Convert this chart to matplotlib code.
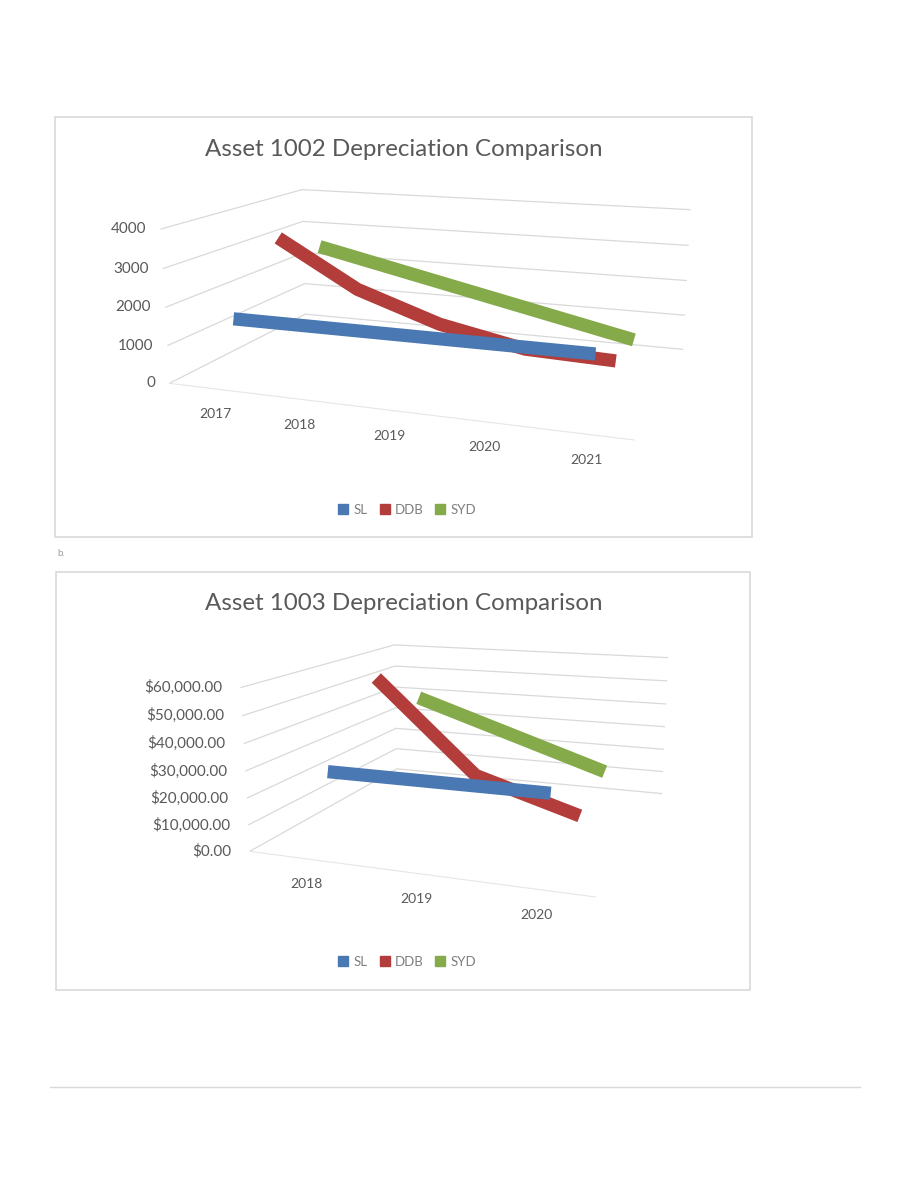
import numpy as np
import matplotlib
matplotlib.use("Agg")
import matplotlib.pyplot as plt
from matplotlib.lines import Line2D
from matplotlib.patches import Rectangle
from mpl_toolkits.mplot3d import proj3d

plt.rcParams["font.family"] = ["Lato", "DejaVu Sans"]

W, H = 911, 1180
TXT = "#595959"
GRID = "#d9d9d9"

series_names = ["SL", "DDB", "SYD"]
series_colors = ["#4a78b2", "#b23d3a", "#84aa4a"]

# asset 1002
years_1002 = ["2017", "2018", "2019", "2020", "2021"]
sl_1002 = [1500, 1500, 1500, 1500, 1500]
ddb_1002 = [3200, 1920, 1152, 691, 614]
syd_1002 = [2500, 2000, 1500, 1000, 500]
ticks_1002 = [0, 1000, 2000, 3000, 4000]

# asset 1003
years_1003 = ["2018", "2019", "2020"]
sl_1003 = [26500, 26500, 26500]
ddb_1003 = [55000, 18333.33, 6111.11]
syd_1003 = [39750, 26500, 13250]
ticks_1003 = [0, 10000, 20000, 30000, 40000, 50000, 60000]


def fx(px):
    return px / W


def fy(py):
    return 1 - py / H


fig = plt.figure(figsize=(W / 100, H / 100), dpi=100)
fig.patch.set_facecolor("white")


def to_px(ax, p):
    u, v, _ = proj3d.proj_transform(p[0], p[1], p[2], ax.M)
    return ax.transData.transform((u, v))


def chart(frame, title, years, series, ticks, fmt, aspect, corners, legend_y,
          zlab_gap):
    x0, y0, x1, y1 = frame
    fig.add_artist(Rectangle((fx(x0), fy(y1)), fx(x1) - fx(x0), fy(y0) - fy(y1),
                             transform=fig.transFigure, fill=False, ec=GRID, lw=1.2))
    fig.text(fx(404), fy(y0 + 32), title, ha="center", va="center",
             fontsize=17.4, color=TXT)

    n = len(years)
    ax = fig.add_axes([0.2, 0.3, 0.5, 0.5 * W / H], projection="3d",
                      proj_type="persp", focal_length=0.38)
    ax.view_init(elev=13.1, azim=-70)
    ax.set_box_aspect(aspect)
    ax.computed_zorder = False
    ax.patch.set_alpha(0)

    xs = np.arange(n)
    # back series first so the front one sits on top
    for d in range(len(series) - 1, -1, -1):
        ax.plot(xs, [d] * n, series[d], color=series_colors[d], lw=9.5,
                solid_capstyle="butt")

    ax.set_xlim(-0.5, n - 0.5)
    ax.set_ylim(-0.5, len(series) - 0.5)
    ax.set_zlim(0, ticks[-1])
    ax.set_xticks(xs)
    ax.set_xticklabels([])
    ax.set_yticks([])
    ax.set_zticks(ticks)
    ax.set_zticklabels([])

    for axis in (ax.xaxis, ax.yaxis, ax.zaxis):
        axis.set_pane_color((1, 1, 1, 0))
        axis.pane.set_edgecolor((1, 1, 1, 0))
        axis._axinfo["tick"]["inward_factor"] = 0
        axis._axinfo["tick"]["outward_factor"] = 0
        axis._axinfo["grid"]["color"] = (1, 1, 1, 0)
        axis.line.set_color((1, 1, 1, 0))
    ax.zaxis._axinfo["grid"]["color"] = GRID
    ax.zaxis._axinfo["grid"]["linewidth"] = 0.9
    ax.xaxis.line.set_color("#e6e6e6")

    # fit the projected box onto the frame
    fig.canvas.draw()
    xl, yl, zl = ax.get_xlim(), ax.get_ylim(), ax.get_zlim()
    p1 = to_px(ax, (xl[0], yl[0], zl[0]))
    p2 = to_px(ax, (xl[1], yl[1], zl[1]))
    t1 = np.array([corners[0][0], H - corners[0][1]])
    t2 = np.array([corners[1][0], H - corners[1][1]])
    bb = ax.get_position()
    size = bb.width * W
    c = np.array([(bb.x0 + bb.width / 2) * W, (bb.y0 + bb.height / 2) * H])
    r1, r2 = (p1 - c) / size, (p2 - c) / size
    new_size = np.linalg.norm(t2 - t1) / np.linalg.norm(r2 - r1)
    nc = (t1 + t2) / 2 - new_size * (r1 + r2) / 2
    ax.set_position([(nc[0] - new_size / 2) / W, (nc[1] - new_size / 2) / H,
                     new_size / W, new_size / H])
    fig.canvas.draw()

    # value labels at the front edge of the side wall
    for t in ticks:
        px, py = to_px(ax, (xl[0], yl[0], t))
        fig.text((px - zlab_gap) / W, py / H, fmt(t), ha="right", va="center",
                 fontsize=11, color=TXT)
    # category labels below the front edge of the floor
    for i, yr in enumerate(years):
        px, py = to_px(ax, (i, yl[0], 0))
        fig.text((px + 5) / W, (py - 26) / H, yr, ha="center", va="center",
                 fontsize=10, color=TXT)

    handles = [Line2D([], [], ls="none", marker="s", markersize=7, color=c_)
               for c_ in series_colors]
    fig.legend(handles, series_names, loc="center", ncol=3, frameon=False,
               bbox_to_anchor=(fx(407), fy(legend_y)), fontsize=9.5,
               labelcolor="#7f7f7f", handlelength=0.8, handletextpad=0.35,
               columnspacing=0.9)
    return ax


chart((55, 117, 752, 537), "Asset 1002 Depreciation Comparison", years_1002,
      [sl_1002, ddb_1002, syd_1002], ticks_1002, lambda v: f"{v:d}",
      (1.55, 1, 0.52), [(170, 385), (690, 208)], 510, 14)

chart((56, 572, 750, 990), "Asset 1003 Depreciation Comparison", years_1003,
      [sl_1003, ddb_1003, syd_1003], ticks_1003, lambda v: f"${v:,.2f}",
      (1.0, 1, 0.47), [(250, 852), (668, 657)], 962, 18)

fig.text(fx(57), fy(553), "b.", fontsize=7, color="#9a9a9a", va="center")
fig.add_artist(Line2D([fx(50), fx(860)], [fy(1087), fy(1087)],
                      transform=fig.transFigure, color=GRID, lw=1))

fig.savefig("out.png", dpi=100, facecolor="white")
